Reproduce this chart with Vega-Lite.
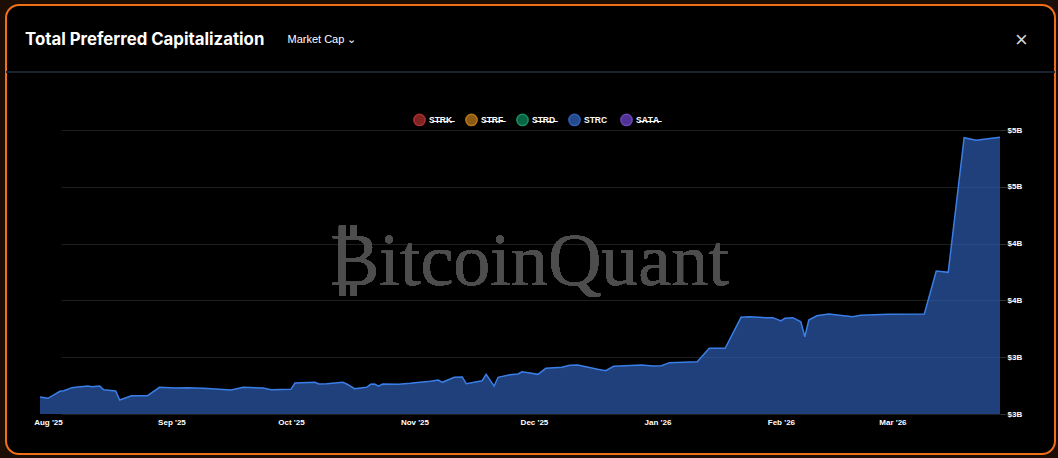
{
  "$schema": "https://vega.github.io/schema/vega-lite/v6.json",
  "width": 1049,
  "height": 449,
  "autosize": {"type": "none"},
  "padding": {"left": 6, "top": 5, "right": 3, "bottom": 4},
  "background": "#1c0e05",
  "config": {
    "view": {"stroke": "#f0701a", "strokeWidth": 2, "cornerRadius": 13, "fill": "#000000"}
  },
  "title": {
    "text": "Total Preferred Capitalization",
    "anchor": "start",
    "frame": "group",
    "orient": "top",
    "offset": -57,
    "dx": 19,
    "baseline": "alphabetic",
    "font": "Inter",
    "fontSize": 16.8,
    "fontWeight": 700,
    "color": "#ffffff"
  },
  "data": {
    "values": [
      {"date": "2025-07-30", "series": "STRC", "cap": 2.650},
      {"date": "2025-08-01", "series": "STRC", "cap": 2.638},
      {"date": "2025-08-04", "series": "STRC", "cap": 2.700},
      {"date": "2025-08-05", "series": "STRC", "cap": 2.705},
      {"date": "2025-08-07", "series": "STRC", "cap": 2.732},
      {"date": "2025-08-08", "series": "STRC", "cap": 2.735},
      {"date": "2025-08-11", "series": "STRC", "cap": 2.746},
      {"date": "2025-08-12", "series": "STRC", "cap": 2.740},
      {"date": "2025-08-14", "series": "STRC", "cap": 2.746},
      {"date": "2025-08-15", "series": "STRC", "cap": 2.714},
      {"date": "2025-08-18", "series": "STRC", "cap": 2.702},
      {"date": "2025-08-19", "series": "STRC", "cap": 2.623},
      {"date": "2025-08-22", "series": "STRC", "cap": 2.661},
      {"date": "2025-08-26", "series": "STRC", "cap": 2.661},
      {"date": "2025-08-29", "series": "STRC", "cap": 2.735},
      {"date": "2025-09-02", "series": "STRC", "cap": 2.729},
      {"date": "2025-09-05", "series": "STRC", "cap": 2.732},
      {"date": "2025-09-09", "series": "STRC", "cap": 2.726},
      {"date": "2025-09-12", "series": "STRC", "cap": 2.720},
      {"date": "2025-09-16", "series": "STRC", "cap": 2.711},
      {"date": "2025-09-19", "series": "STRC", "cap": 2.735},
      {"date": "2025-09-24", "series": "STRC", "cap": 2.729},
      {"date": "2025-09-26", "series": "STRC", "cap": 2.714},
      {"date": "2025-10-01", "series": "STRC", "cap": 2.717},
      {"date": "2025-10-02", "series": "STRC", "cap": 2.773},
      {"date": "2025-10-07", "series": "STRC", "cap": 2.779},
      {"date": "2025-10-08", "series": "STRC", "cap": 2.764},
      {"date": "2025-10-10", "series": "STRC", "cap": 2.767},
      {"date": "2025-10-14", "series": "STRC", "cap": 2.779},
      {"date": "2025-10-15", "series": "STRC", "cap": 2.764},
      {"date": "2025-10-17", "series": "STRC", "cap": 2.723},
      {"date": "2025-10-20", "series": "STRC", "cap": 2.735},
      {"date": "2025-10-21", "series": "STRC", "cap": 2.761},
      {"date": "2025-10-22", "series": "STRC", "cap": 2.764},
      {"date": "2025-10-23", "series": "STRC", "cap": 2.746},
      {"date": "2025-10-24", "series": "STRC", "cap": 2.764},
      {"date": "2025-10-28", "series": "STRC", "cap": 2.761},
      {"date": "2025-10-31", "series": "STRC", "cap": 2.770},
      {"date": "2025-11-03", "series": "STRC", "cap": 2.782},
      {"date": "2025-11-05", "series": "STRC", "cap": 2.788},
      {"date": "2025-11-07", "series": "STRC", "cap": 2.799},
      {"date": "2025-11-08", "series": "STRC", "cap": 2.779},
      {"date": "2025-11-11", "series": "STRC", "cap": 2.823},
      {"date": "2025-11-13", "series": "STRC", "cap": 2.826},
      {"date": "2025-11-14", "series": "STRC", "cap": 2.767},
      {"date": "2025-11-18", "series": "STRC", "cap": 2.793},
      {"date": "2025-11-19", "series": "STRC", "cap": 2.849},
      {"date": "2025-11-21", "series": "STRC", "cap": 2.746},
      {"date": "2025-11-22", "series": "STRC", "cap": 2.823},
      {"date": "2025-11-25", "series": "STRC", "cap": 2.846},
      {"date": "2025-11-27", "series": "STRC", "cap": 2.852},
      {"date": "2025-11-28", "series": "STRC", "cap": 2.872},
      {"date": "2025-11-30", "series": "STRC", "cap": 2.861},
      {"date": "2025-12-02", "series": "STRC", "cap": 2.849},
      {"date": "2025-12-04", "series": "STRC", "cap": 2.902},
      {"date": "2025-12-08", "series": "STRC", "cap": 2.911},
      {"date": "2025-12-10", "series": "STRC", "cap": 2.929},
      {"date": "2025-12-12", "series": "STRC", "cap": 2.931},
      {"date": "2025-12-17", "series": "STRC", "cap": 2.893},
      {"date": "2025-12-19", "series": "STRC", "cap": 2.881},
      {"date": "2025-12-21", "series": "STRC", "cap": 2.920},
      {"date": "2025-12-28", "series": "STRC", "cap": 2.931},
      {"date": "2025-12-31", "series": "STRC", "cap": 2.923},
      {"date": "2026-01-02", "series": "STRC", "cap": 2.925},
      {"date": "2026-01-04", "series": "STRC", "cap": 2.952},
      {"date": "2026-01-11", "series": "STRC", "cap": 2.960},
      {"date": "2026-01-14", "series": "STRC", "cap": 3.078},
      {"date": "2026-01-18", "series": "STRC", "cap": 3.078},
      {"date": "2026-01-22", "series": "STRC", "cap": 3.351},
      {"date": "2026-01-24", "series": "STRC", "cap": 3.357},
      {"date": "2026-01-28", "series": "STRC", "cap": 3.348},
      {"date": "2026-01-30", "series": "STRC", "cap": 3.348},
      {"date": "2026-02-01", "series": "STRC", "cap": 3.319},
      {"date": "2026-02-02", "series": "STRC", "cap": 3.342},
      {"date": "2026-02-04", "series": "STRC", "cap": 3.348},
      {"date": "2026-02-06", "series": "STRC", "cap": 3.312},
      {"date": "2026-02-07", "series": "STRC", "cap": 3.180},
      {"date": "2026-02-08", "series": "STRC", "cap": 3.327},
      {"date": "2026-02-10", "series": "STRC", "cap": 3.365},
      {"date": "2026-02-13", "series": "STRC", "cap": 3.380},
      {"date": "2026-02-19", "series": "STRC", "cap": 3.357},
      {"date": "2026-02-21", "series": "STRC", "cap": 3.369},
      {"date": "2026-02-28", "series": "STRC", "cap": 3.378},
      {"date": "2026-03-09", "series": "STRC", "cap": 3.380},
      {"date": "2026-03-12", "series": "STRC", "cap": 3.759},
      {"date": "2026-03-15", "series": "STRC", "cap": 3.747},
      {"date": "2026-03-19", "series": "STRC", "cap": 4.932},
      {"date": "2026-03-22", "series": "STRC", "cap": 4.909},
      {"date": "2026-03-28", "series": "STRC", "cap": 4.936}
    ]
  },
  "encoding": {
    "x": {
      "field": "date",
      "type": "temporal",
      "scale": {
        "type": "utc",
        "domain": [
          {"year": 2025, "month": 7, "date": 30, "utc": true},
          {"year": 2026, "month": 3, "date": 28, "utc": true}
        ],
        "range": [34, 994]
      },
      "axis": {
        "orient": "bottom",
        "offset": -40,
        "domain": false,
        "ticks": false,
        "grid": false,
        "labelPadding": 4,
        "labelBaseline": "top",
        "labelExpr": "utcFormat(datum.value, \"%b '%y\")",
        "values": [
          {"year": 2025, "month": 8, "date": 1, "utc": true},
          {"year": 2025, "month": 9, "date": 1, "utc": true},
          {"year": 2025, "month": 10, "date": 1, "utc": true},
          {"year": 2025, "month": 11, "date": 1, "utc": true},
          {"year": 2025, "month": 12, "date": 1, "utc": true},
          {"year": 2026, "month": 1, "date": 1, "utc": true},
          {"year": 2026, "month": 2, "date": 1, "utc": true},
          {"year": 2026, "month": 3, "date": 1, "utc": true}
        ],
        "labelColor": "#ffffff",
        "labelFont": "Liberation Sans",
        "labelFontSize": 8,
        "labelFontWeight": "bold",
        "title": "Market Cap  \u2304",
        "titleX": 281,
        "titleY": -375,
        "titleAlign": "left",
        "titleBaseline": "middle",
        "titleFont": "Liberation Sans",
        "titleFontSize": 11,
        "titleFontWeight": "normal",
        "titleColor": "#ffffff"
      }
    },
    "y": {
      "field": "cap",
      "type": "quantitative",
      "scale": {"domain": [2.5, 5.0], "range": [409, 125], "zero": false, "nice": false},
      "axis": {
        "orient": "right",
        "offset": -55,
        "values": [2.5, 3, 3.5, 4, 4.5, 5],
        "labelExpr": "'$' + format(datum.value, '.0f') + 'B'",
        "grid": true,
        "gridColor": "#1e1e1e",
        "gridWidth": 1,
        "domain": false,
        "tickSize": 5,
        "tickColor": "#333333",
        "labelPadding": 2,
        "labelBaseline": "middle",
        "labelColor": "#ffffff",
        "labelFont": "Liberation Sans",
        "labelFontSize": 8,
        "labelFontWeight": "bold",
        "title": "\u00d7",
        "titleX": 21,
        "titleY": 34,
        "titleAngle": 0,
        "titleAlign": "center",
        "titleBaseline": "middle",
        "titleFont": "Liberation Sans",
        "titleFontSize": 22,
        "titleFontWeight": "normal",
        "titleColor": "#d4d4d4"
      }
    }
  },
  "layer": [
    {
      "mark": {"type": "rule", "color": "#1c2531", "strokeWidth": 1},
      "encoding": {"x": null, "y": {"datum": 5.511, "type": "quantitative"}}
    },
    {
      "mark": {"type": "text", "font": "Liberation Serif", "fontSize": 74, "color": "#4d4d4d", "align": "center", "baseline": "alphabetic"},
      "encoding": {
        "x": {"datum": {"year": 2025, "month": 11, "date": 29, "hours": 15, "utc": true}, "type": "temporal"},
        "y": {"datum": 3.636, "type": "quantitative"},
        "text": {"value": "\u20bfitcoinQuant"}
      }
    },
    {
      "mark": {"type": "area", "fillOpacity": 0.65, "opacity": 1, "interpolate": "linear"},
      "encoding": {
        "y2": {"datum": 2.5},
        "color": {
          "field": "series",
          "type": "nominal",
          "scale": {
            "domain": ["STRK", "STRF", "STRD", "STRC", "SATA"],
            "range": ["#ad2f2f", "#bb781b", "#0d855d", "#3062bc", "#6b43c8"]
          },
          "legend": {
            "orient": "none",
            "legendX": 407,
            "legendY": 108,
            "direction": "horizontal",
            "columns": 5,
            "title": null,
            "padding": 0,
            "symbolType": "circle",
            "symbolSize": 127,
            "symbolOpacity": 0.75,
            "symbolStrokeWidth": 1.5,
            "labelOffset": 3,
            "columnPadding": 9,
            "labelFont": "Liberation Sans",
            "labelFontSize": 8.5,
            "labelFontWeight": "bold",
            "labelColor": "#ffffff",
            "labelExpr": "datum.label === 'STRC' ? datum.label : datum.label === 'STRK' ? 'S\u0336T\u0336R\u0336K\u0336' : datum.label === 'STRF' ? 'S\u0336T\u0336R\u0336F\u0336' : datum.label === 'STRD' ? 'S\u0336T\u0336R\u0336D\u0336' : 'S\u0336A\u0336T\u0336A\u0336'",
            "encode": {
              "symbols": {
                "update": {
                  "stroke": {"signal": "datum.value === 'STRK' ? '#e04040' : datum.value === 'STRF' ? '#f0a020' : datum.value === 'STRD' ? '#20c080' : datum.value === 'STRC' ? '#4080f0' : '#9060f0'"}
                }
              }
            }
          }
        }
      }
    },
    {
      "mark": {"type": "line", "color": "#3a7ee8", "strokeWidth": 1.5, "interpolate": "linear"},
      "encoding": {}
    }
  ]
}
